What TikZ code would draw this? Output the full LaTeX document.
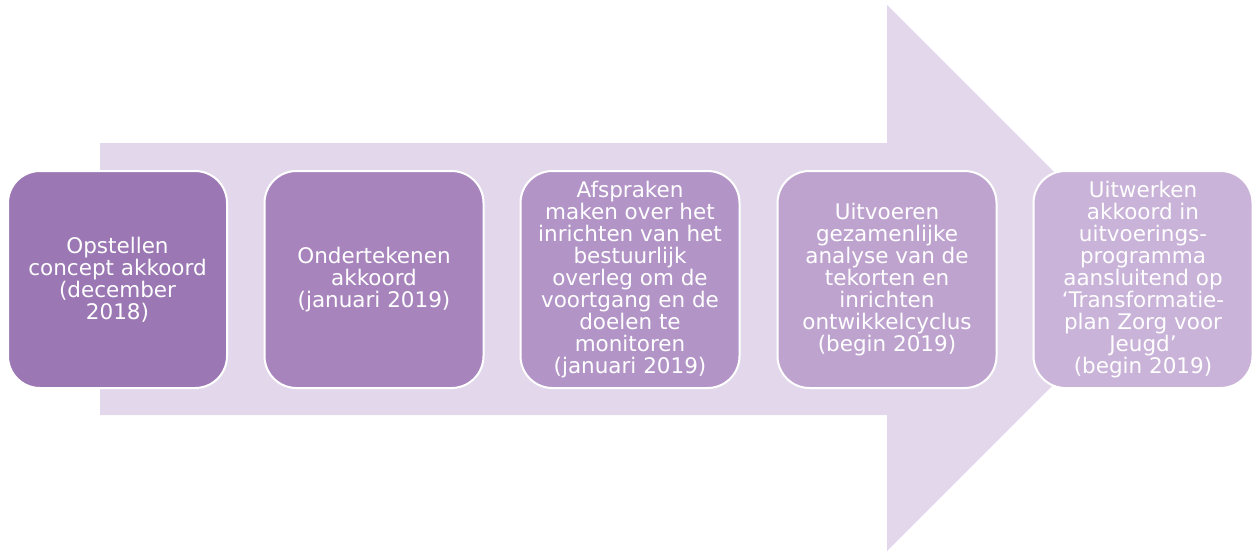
\documentclass[tikz,border=0pt]{standalone}
\usepackage{fontspec}
\setmainfont{DejaVu Sans}
\definecolor{bgarrow}{HTML}{E3D8EB}
\definecolor{cA}{HTML}{9B77B3}
\definecolor{cB}{HTML}{A884BD}
\definecolor{cC}{HTML}{B294C7}
\definecolor{cD}{HTML}{BEA3CF}
\definecolor{cE}{HTML}{C9B3D8}
\begin{document}
\begin{tikzpicture}[x=1pt,y=1pt,
  stepbox/.style={draw=white,line width=2pt,rounded corners=32pt,minimum width=219pt,minimum height=217pt,
    text=white,align=center,font=\fontsize{21.5}{21.9}\selectfont,inner sep=0pt}]
\useasboundingbox (0,0) rectangle (1252,-552);
\fill[bgarrow] (100,-143) -- (887,-143) -- (887,-5) -- (1160,-278) -- (887,-551) -- (887,-415) -- (100,-415) -- cycle;
\node[stepbox,fill=cA] (s1) at (117.5,-279.5) {Opstellen\\concept akkoord\\(december\\2018)};
\node[stepbox,fill=cB] (s2) at (374,-279.5) {Ondertekenen\\akkoord\\(januari 2019)};
\node[stepbox,fill=cC] (s3) at (630,-279.5) {Afspraken\\maken over het\\inrichten van het\\bestuurlijk\\overleg om de\\voortgang en de\\doelen te\\monitoren\\(januari 2019)};
\node[stepbox,fill=cD] (s4) at (887,-279.5) {Uitvoeren\\gezamenlijke\\analyse van de\\tekorten en\\inrichten\\ontwikkelcyclus\\(begin 2019)};
\node[stepbox,fill=cE] (s5) at (1143,-279.5) {Uitwerken\\akkoord in\\uitvoerings-\\programma\\aansluitend op\\‘Transformatie-\\plan Zorg voor\\Jeugd’\\(begin 2019)};
\end{tikzpicture}
\end{document}
